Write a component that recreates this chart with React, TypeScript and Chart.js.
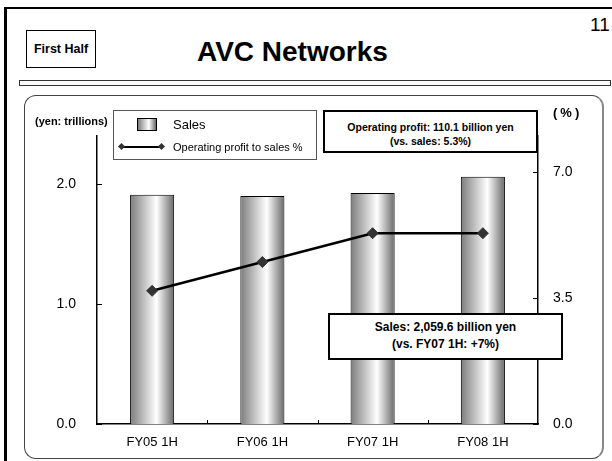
import React, { useEffect, useRef } from "react";
import { Chart, registerables } from "chart.js";

Chart.register(...registerables);

const CATEGORIES = ["FY05 1H", "FY06 1H", "FY07 1H", "FY08 1H"];
const SALES = [1.91, 1.9, 1.925, 2.06]; // yen trillions
const OP_MARGIN = [3.7, 4.5, 5.3, 5.3]; // %
const LEFT_TICKS = [0, 1, 2];
const RIGHT_TICKS = [0, 3.5, 7];
const LEFT_MAX = 2.4;
const RIGHT_MAX = 8;

const FONT = '"Liberation Sans", Arial, Helvetica, sans-serif';

const innerTicks = {
  id: "innerTicks",
  afterDraw(chart: any) {
    const { ctx, chartArea } = chart;
    const { left, right, bottom } = chartArea;
    const { x, y, y1 } = chart.scales;
    ctx.save();
    ctx.strokeStyle = "#000";
    ctx.lineWidth = 1;
    ctx.beginPath();
    y.ticks.forEach((t: any) => {
      const py = Math.round(y.getPixelForValue(t.value)) + 0.5;
      ctx.moveTo(left, py);
      ctx.lineTo(left + 5, py);
    });
    y1.ticks.forEach((t: any) => {
      const py = Math.round(y1.getPixelForValue(t.value)) + 0.5;
      ctx.moveTo(right - 5, py);
      ctx.lineTo(right, py);
    });
    for (let i = 1; i < CATEGORIES.length; i++) {
      const px = Math.round((x.getPixelForValue(i - 1) + x.getPixelForValue(i)) / 2) + 0.5;
      ctx.moveTo(px, bottom - 4);
      ctx.lineTo(px, bottom);
    }
    ctx.stroke();
    ctx.restore();
  },
};

function barGradient(c: any) {
  const chart = c.chart;
  const xs = chart.scales && chart.scales.x;
  if (c.type !== "data" || !xs || !xs.width) return "#cccccc";
  const cx = xs.getPixelForValue(c.dataIndex);
  const w = (xs.width / CATEGORIES.length) * 0.4;
  const g = chart.ctx.createLinearGradient(cx - w / 2, 0, cx + w / 2, 0);
  g.addColorStop(0, "#7c7c7c");
  g.addColorStop(0.6, "#ffffff");
  g.addColorStop(1, "#686868");
  return g;
}

function ChartCanvas() {
  const ref = useRef<HTMLCanvasElement | null>(null);
  useEffect(() => {
    if (!ref.current) return;
    const chart = new Chart(ref.current, {
      type: "bar",
      data: {
        labels: CATEGORIES,
        datasets: [
          {
            type: "line",
            label: "Operating profit to sales %",
            data: OP_MARGIN,
            yAxisID: "y1",
            borderColor: "#000",
            borderWidth: 2.5,
            pointStyle: "rectRot",
            pointRadius: 5.5,
            pointBackgroundColor: "#333",
            pointBorderColor: "#333",
            pointBorderWidth: 1,
            tension: 0,
            order: 0,
          } as any,
          {
            type: "bar",
            label: "Sales",
            data: SALES,
            yAxisID: "y",
            backgroundColor: barGradient as any,
            borderColor: "#000",
            borderWidth: 1,
            barPercentage: 0.4,
            categoryPercentage: 1,
            order: 1,
          } as any,
        ],
      },
      options: {
        responsive: false,
        animation: false,
        devicePixelRatio: 1,
        layout: { padding: { top: 136, left: 0, right: 0, bottom: 0 } },
        plugins: { legend: { display: false }, tooltip: { enabled: false } },
        scales: {
          x: {
            type: "category",
            offset: true,
            grid: { display: false, drawTicks: false },
            border: { display: true, color: "#000", width: 1.5 },
            ticks: { color: "#000", font: { family: FONT, size: 13 }, padding: 11, maxRotation: 0 },
            afterFit: (s: any) => {
              s.height = 37;
            },
          },
          y: {
            position: "left",
            min: 0,
            max: LEFT_MAX,
            grid: { display: false, drawTicks: false },
            border: { display: true, color: "#000", width: 1.5 },
            ticks: {
              color: "#000",
              font: { family: FONT, size: 14 },
              padding: 21,
              callback: (v: any) => Number(v).toFixed(1),
            },
            afterBuildTicks: (s: any) => {
              s.ticks = LEFT_TICKS.map((v) => ({ value: v }));
            },
            afterFit: (s: any) => {
              s.width = 97;
            },
          },
          y1: {
            position: "right",
            min: 0,
            max: RIGHT_MAX,
            grid: { display: false, drawTicks: false },
            border: { display: true, color: "#000", width: 1.5 },
            ticks: {
              color: "#000",
              font: { family: FONT, size: 14 },
              padding: 15,
              callback: (v: any) => Number(v).toFixed(1),
            },
            afterBuildTicks: (s: any) => {
              s.ticks = RIGHT_TICKS.map((v) => ({ value: v }));
            },
            afterFit: (s: any) => {
              s.width = 74;
            },
          },
        },
      } as any,
      plugins: [innerTicks],
    });
    return () => chart.destroy();
  }, []);
  return (
    <canvas
      ref={ref}
      width={612}
      height={461}
      style={{ position: "absolute", left: 0, top: 0, width: 612, height: 461 }}
    />
  );
}

const abs = (s: React.CSSProperties): React.CSSProperties => ({ position: "absolute", ...s });

export default function App() {
  return (
    <div
      style={{
        position: "absolute",
        left: 0,
        top: 0,
        width: 612,
        height: 461,
        overflow: "hidden",
        background: "#fff",
        fontFamily: FONT,
        color: "#000",
      }}
    >
      {/* page frame */}
      <div style={abs({ left: 4, top: 7, width: 620, height: 470, borderTop: "2px solid #000", borderLeft: "3px solid #000" })} />
      <div style={abs({ left: 590, top: 15, fontSize: 19, lineHeight: 1 })}>11</div>
      <div
        style={abs({
          left: 26,
          top: 30,
          width: 70,
          height: 38,
          boxSizing: "border-box",
          border: "1px solid #000",
          display: "flex",
          alignItems: "center",
          justifyContent: "center",
          fontWeight: "bold",
          fontSize: 12.5,
          whiteSpace: "nowrap",
        })}
      >
        First Half
      </div>
      <div
        style={abs({
          left: 197,
          top: 38,
          fontSize: 28,
          lineHeight: 1,
          fontWeight: "bold",
          whiteSpace: "nowrap",
        })}
      >
        AVC Networks
      </div>
      <div style={abs({ left: 19, top: 80, width: 592, height: 6, boxSizing: "border-box", border: "1px solid #333", background: "#fafafa" })} />
      {/* panel */}
      <div
        style={abs({
          left: 24,
          top: 95,
          width: 580,
          height: 364,
          boxSizing: "border-box",
          border: "1px solid #444",
          borderRight: "2px solid #888",
          borderRadius: 12,
        })}
      />
      <ChartCanvas />
      {/* axis captions */}
      <div style={abs({ left: 35, top: 116, fontSize: 11, fontWeight: "bold", lineHeight: 1, whiteSpace: "nowrap" })}>
        (yen: trillions)
      </div>
      <div
        style={abs({
          left: 553,
          top: 106,
          fontSize: 13,
          fontWeight: "bold",
          lineHeight: 1,
          letterSpacing: 3,
          whiteSpace: "nowrap",
        })}
      >
        (%)
      </div>
      {/* legend */}
      <div style={abs({ left: 113, top: 110, width: 204, height: 50, boxSizing: "border-box", border: "1px solid #555", background: "#fff" })} />
      <div
        style={abs({
          left: 137,
          top: 118,
          width: 20,
          height: 13,
          boxSizing: "border-box",
          border: "1px solid #000",
          background: "linear-gradient(to right, #7c7c7c, #ffffff 60%, #686868)",
        })}
      />
      <div style={abs({ left: 173, top: 117, fontSize: 13, lineHeight: "15px", whiteSpace: "nowrap" })}>Sales</div>
      <div style={abs({ left: 123, top: 146, width: 38, height: 2, background: "#000" })} />
      <div style={abs({ left: 119, top: 144, width: 5, height: 5, background: "#333", transform: "rotate(45deg)" })} />
      <div style={abs({ left: 159, top: 144, width: 5, height: 5, background: "#333", transform: "rotate(45deg)" })} />
      <div style={abs({ left: 173, top: 140, fontSize: 11, lineHeight: "14px", whiteSpace: "nowrap" })}>
        Operating profit to sales %
      </div>
      {/* annotation boxes */}
      <div
        style={abs({
          left: 323,
          top: 110,
          width: 215,
          height: 43,
          boxSizing: "border-box",
          border: "2px solid #000",
          background: "#fff",
          textAlign: "center",
          fontWeight: "bold",
          fontSize: 10.5,
          lineHeight: "14px",
          paddingTop: 8,
          whiteSpace: "nowrap",
        })}
      >
        Operating profit: 110.1 billion yen
        <br />
        (vs. sales: 5.3%)
      </div>
      <div
        style={abs({
          left: 328,
          top: 313,
          width: 235,
          height: 47,
          boxSizing: "border-box",
          border: "2px solid #000",
          background: "#fff",
          textAlign: "center",
          fontWeight: "bold",
          fontSize: 12,
          lineHeight: "17px",
          paddingTop: 4,
          whiteSpace: "nowrap",
        })}
      >
        Sales: 2,059.6 billion yen
        <br />
        (vs. FY07 1H: +7%)
      </div>
    </div>
  );
}
